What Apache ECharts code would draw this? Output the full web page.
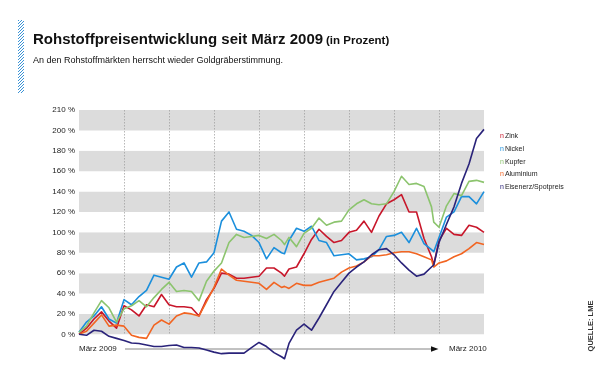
<!DOCTYPE html>
<html><head><meta charset="utf-8">
<script src="https://cdn.jsdelivr.net/npm/echarts@6/dist/echarts.min.js"></script>
<style>html,body{margin:0;padding:0;background:#fff}#c{width:600px;height:369px}</style>
</head><body><div id="c"></div>
<script>
// x positions in weeks since March 2009
const weeks = [0,1,2,3,4,5,6,7,8,9,10,11,12,13,14,15,16,17,18,19,20,21,22,23,24,25,26,27,27.4,28,29,30,31,32,33,34,35,36,37,38,39,40,41,42,43,44,45,46,47,47.3,48,49,50,51,52,53,54];
const seriesNames = ['Zink','Nickel','Kupfer','Aluminium','Eisenerz/Spotpreis'];
const zink = [0,6,15,22,13,6,28,24,18,29,27,39,29,27,27,26,18,34,45,60,59,55,55,56,57,65,65,60,57,64,66,79,93,103,96,90,92,100,102,111,100,116,128,132,137,120,120,94,76,68,92,104,98,97,107,105,100];
const nickel = [2,12,18,27,15,11,34,29,37,43,58,56,54,66,70,56,70,71,80,111,120,103,101,97,90,74,85,80,79,92,104,101,106,92,90,77,78,79,73,74,76,83,96,97,100,90,104,89,83,81,95,115,120,135,135,128,140];
const kupfer = [2,8,21,33,26,12,25,28,33,27,36,44,51,42,43,42,33,52,62,70,90,98,95,96,97,94,98,92,88,95,86,99,104,114,107,110,111,122,128,132,128,127,128,140,155,147,148,145,125,110,105,126,138,136,150,151,149];
const aluminium = [0,3,11,19,8,9,8,-1,-3,-4,9,14,10,18,21,20,18,32,46,64,58,53,52,51,50,44,51,46,47,45,50,48,48,51,53,55,61,65,67,71,77,77,78,80,81,81,79,76,73,66,70,72,76,79,84,90,88];
const eisenerz = [0,-1,4,3,-2,-4,-6,-8.5,-9,-10.5,-12,-12,-11,-10.5,-13,-13,-13.5,-15.5,-17.5,-19,-18.5,-18.5,-18.5,-13,-8,-12,-18,-22,-24,-9,4,10,4,16,29,42,51,60,66,71,78,83,84,78,70,63,57,59,66,68,90,108,125,148,167,192,201];
const yTicks = [0,20,40,60,80,100,120,140,160,180,200,220];
const yTickLabels = ['0 %','20 %','40 %','60 %','80 %','100 %','120 %','140 %','160 %','180 %','200 %','210 %'];

const colors = ['#c8172b','#1b8fdc','#8cc46e','#f26522','#2a237a'];
const FONT = '"Liberation Sans", Arial, Helvetica, sans-serif';
const allData = [zink, nickel, kupfer, aluminium, eisenerz];

const hatch = document.createElement('canvas');
hatch.width = 3; hatch.height = 3;
(function(){
  const g = hatch.getContext('2d');
  g.fillStyle = '#ffffff'; g.fillRect(0,0,3,3);
  g.strokeStyle = '#3b93d6'; g.lineWidth = 1;
  g.beginPath(); g.moveTo(0,3); g.lineTo(3,0); g.stroke();
})();

const chart = echarts.init(document.getElementById('c'), null, {renderer:'canvas'});
const rich = {t:{fontSize:7,color:'#222',fontFamily:FONT,padding:[0,0,0,1]}};
colors.forEach((c,i)=>{ rich['c'+i] = {fontSize:7,color:c,fontFamily:FONT}; });

chart.setOption({
  animation:false,
  grid:{left:79, right:116, top:110, bottom:34.7},
  xAxis:{type:'value', min:0, max:54, interval:6, z:1,
    axisLine:{show:false}, axisTick:{show:false}, axisLabel:{show:false},
    splitLine:{show:true, showMinLine:false, showMaxLine:false, lineStyle:{color:'#9a9a9a', width:0.7, type:[1.5,1.5]}}},
  yAxis:{type:'value', min:0, max:220, interval:20, z:0,
    axisLine:{show:false}, axisTick:{show:false},
    splitLine:{show:false},
    splitArea:{show:true, areaStyle:{color:['#dcdcdc','#ffffff']}},
    axisLabel:{margin:4, fontSize:8, color:'#222', fontFamily:FONT,
      formatter:v=>yTickLabels[yTicks.indexOf(v)]}},
  legend:{orient:'vertical', left:490, top:127.5, itemGap:4.6, itemWidth:0, itemHeight:8,
    icon:'rect', selectedMode:false, itemStyle:{opacity:0}, lineStyle:{opacity:0},
    data:seriesNames,
    textStyle:{fontSize:7, color:'#222', fontFamily:FONT, rich:rich},
    formatter:name=>'{c'+seriesNames.indexOf(name)+'|n}{t|'+name+'}'},
  series: seriesNames.map((n,i)=>({
    name:n, type:'line', showSymbol:false, symbol:'none', clip:false,
    color:colors[i],
    lineStyle:{width:1.6, color:colors[i], join:'round'},
    data: weeks.map((w,k)=>[w, allData[i][k]])
  })),
  graphic:[
    {type:'rect', shape:{x:18,y:20,width:6,height:73}, style:{fill:{image:hatch, repeat:'repeat'}}},
    {type:'text', x:33, y:40, style:{text:'Rohstoffpreisentwicklung seit März 2009', font:'bold 15px '+FONT, fill:'#111', verticalAlign:'middle'}},
    {type:'text', x:326, y:41.3, style:{text:'(in Prozent)', font:'bold 11.5px '+FONT, fill:'#111', verticalAlign:'middle'}},
    {type:'text', x:33, y:61, style:{text:'An den Rohstoffmärkten herrscht wieder Goldgräberstimmung.', font:'9px '+FONT, fill:'#111', verticalAlign:'middle'}},
    {type:'text', x:79, y:349, style:{text:'März 2009', font:'8px '+FONT, fill:'#222', verticalAlign:'middle'}},
    {type:'line', shape:{x1:125,y1:349,x2:432,y2:349}, style:{stroke:'#666', lineWidth:0.8}},
    {type:'polygon', shape:{points:[[431,346.3],[438.5,349],[431,351.7]]}, style:{fill:'#111'}},
    {type:'text', x:449, y:349, style:{text:'März 2010', font:'8px '+FONT, fill:'#222', verticalAlign:'middle'}},
    {type:'text', x:591, y:326, rotation:Math.PI/2, style:{text:'QUELLE: LME', font:'bold 7.5px '+FONT, fill:'#333', align:'center', verticalAlign:'middle'}}
  ]
});
</script></body></html>
